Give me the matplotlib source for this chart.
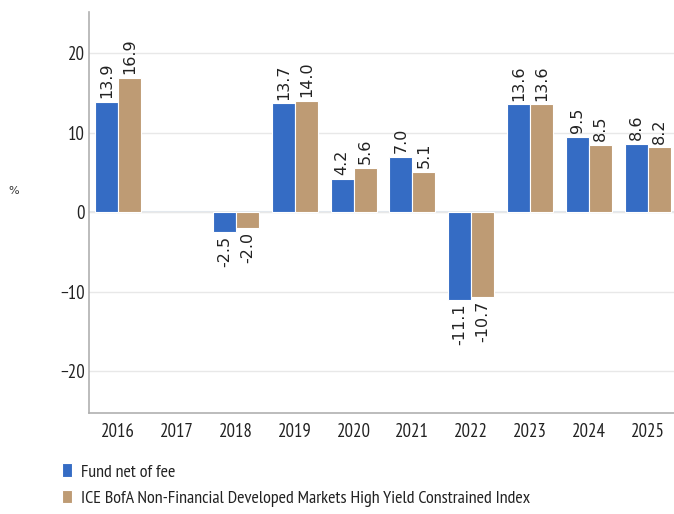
import matplotlib
matplotlib.use("Agg")
import matplotlib.pyplot as plt
import numpy as np

years = ["2016", "2017", "2018", "2019", "2020", "2021", "2022", "2023", "2024", "2025"]
fund = [13.9, np.nan, -2.5, 13.7, 4.2, 7.0, -11.1, 13.6, 9.5, 8.6]
index = [16.9, np.nan, -2.0, 14.0, 5.6, 5.1, -10.7, 13.6, 8.5, 8.2]
series_names = ["Fund net of fee",
                "ICE BofA Non-Financial Developed Markets High Yield Constrained Index"]
colors = ["#356CC4", "#BE9B74"]

fig = plt.figure(figsize=(6.74, 5.14), dpi=100)
ax = fig.add_axes([89/674, 1 - 413/514, (677-89)/674, (413-12)/514])

x = np.arange(len(years))
w = 0.39
narrow = ["PT Sans Narrow", "DejaVu Sans"]

for i, (vals, c) in enumerate(zip([fund, index], colors)):
    pos = x + (i - 0.5) * w
    ax.bar(pos, vals, width=w, color=c, edgecolor="white", linewidth=0.8, zorder=3,
           label=series_names[i])
    for p, v in zip(pos, vals):
        if np.isnan(v):
            continue
        off = 2.5 if v >= 0 else -2.5
        ax.annotate(f"{v:.1f}", (p, v), xytext=(0, off), textcoords="offset points",
                    rotation=90, ha="center", va="bottom" if v >= 0 else "top",
                    fontsize=11.5, family="DejaVu Sans", color="#222222")

ax.set_xlim(-0.5, len(years) - 0.5)
ax.set_ylim(-25.3, 25.2)
ax.set_yticks([-20, -10, 0, 10, 20])
ax.set_yticklabels(["\u221220", "\u221210", "0", "10", "20"])
ax.set_xticks(x)
ax.set_xticklabels(years)
for lab in ax.get_xticklabels() + ax.get_yticklabels():
    lab.set_family(narrow)
    lab.set_fontsize(13.5)
    lab.set_color("#222222")
ax.tick_params(axis="both", length=0)
ax.tick_params(axis="x", pad=7)
ax.tick_params(axis="y", pad=3)

ax.grid(axis="y", color="#E8E8E8", linewidth=1, zorder=0)
ax.axhline(0, color="#E3E8EF", linewidth=1.5, zorder=1)
for s in ["top", "right"]:
    ax.spines[s].set_visible(False)
ax.spines["left"].set_color("#B0B0B0")
ax.spines["bottom"].set_color("#B0B0B0")
ax.spines["left"].set_linewidth(1.2)
ax.spines["bottom"].set_linewidth(1.2)

fig.text(8/674, 1 - 191/514, "%", fontsize=8, family="DejaVu Sans", color="#333333",
         va="center", ha="left")

leg = fig.legend(loc="upper left", bbox_to_anchor=(57/674, 1 - 458/514),
                 frameon=False, handlelength=0.55, handleheight=0.8, handletextpad=0.5,
                 labelspacing=0.5, borderaxespad=0, borderpad=0.3,
                 prop={"family": narrow, "size": 13})
for t in leg.get_texts():
    t.set_color("#222222")

fig.savefig("out.png", dpi=100)
